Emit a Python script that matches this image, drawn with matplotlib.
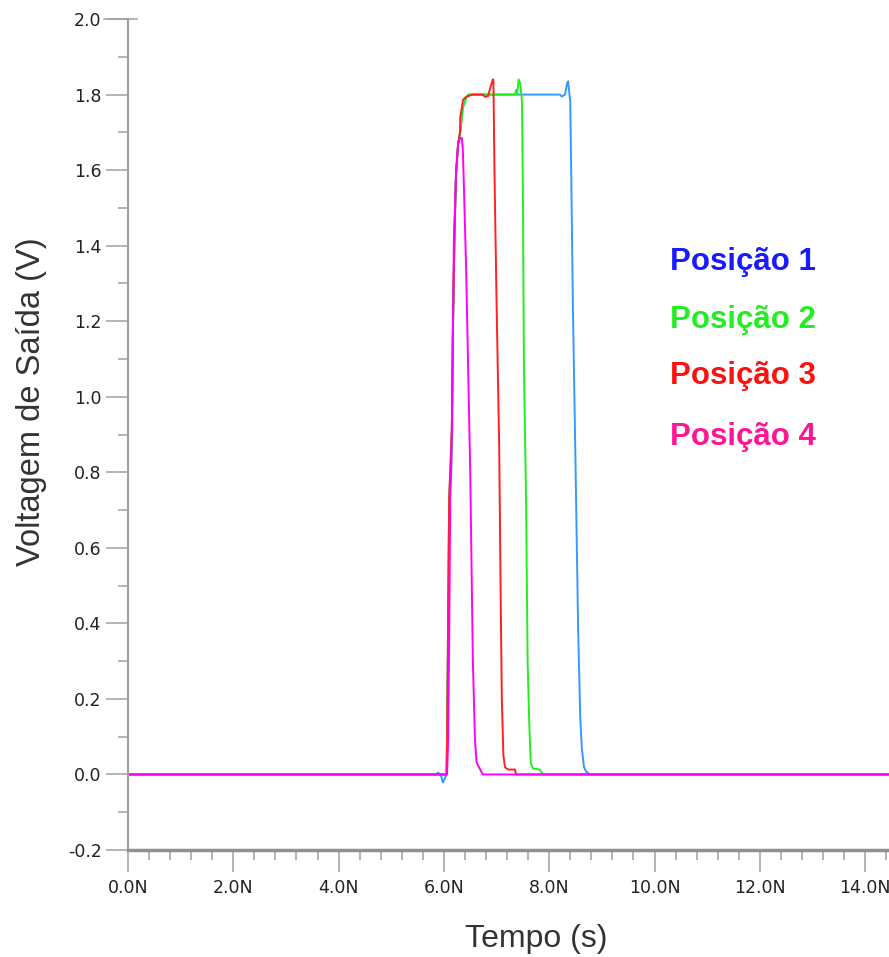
import numpy as np
import matplotlib.pyplot as plt
from matplotlib.ticker import MultipleLocator

# Posicao 1 (azul)
t1 = [0, 5.85, 5.89, 5.95, 5.98, 6.02, 6.05, 6.06, 6.08, 6.10, 6.14, 6.16, 6.17, 6.20, 6.23, 6.27,
      6.31, 6.34, 6.36, 6.42, 6.47, 8.20, 8.24, 8.30, 8.34, 8.36, 8.40, 8.42, 8.45, 8.50, 8.55,
      8.59, 8.62, 8.66, 8.70, 8.78, 15.0]
v1 = [0, 0, 0.005, -0.005, -0.021, -0.01, 0, 0.085, 0.35, 0.73, 0.80, 0.92, 1.17, 1.42, 1.59, 1.67,
      1.70, 1.74, 1.765, 1.79, 1.80, 1.80, 1.795, 1.80, 1.83, 1.835, 1.78, 1.57, 1.24, 0.82, 0.38,
      0.15, 0.07, 0.02, 0.008, 0, 0]

# Posicao 2 (verde)
t2 = [0, 6.05, 6.06, 6.10, 6.15, 6.17, 6.20, 6.23, 6.27, 6.31, 6.34, 6.36, 6.42, 6.47, 7.35, 7.37,
      7.39, 7.42, 7.45, 7.483, 7.50, 7.52, 7.56, 7.59, 7.62, 7.65, 7.69, 7.82, 7.88, 15.0]
v2 = [0, 0, 0.09, 0.73, 0.91, 1.17, 1.42, 1.59, 1.67, 1.70, 1.74, 1.765, 1.79, 1.80, 1.80, 1.812,
      1.80, 1.84, 1.83, 1.78, 1.55, 1.08, 0.73, 0.30, 0.14, 0.03, 0.016, 0.013, 0, 0]

# Posicao 3 (vermelho)
t3 = [0, 6.05, 6.06, 6.10, 6.15, 6.17, 6.20, 6.23, 6.27, 6.306, 6.31, 6.34, 6.363, 6.42, 6.458,
      6.55, 6.74, 6.78, 6.84, 6.86, 6.895, 6.93, 6.94, 6.96, 7.00, 7.05, 7.08, 7.10, 7.13, 7.16,
      7.22, 7.35, 7.37, 15.0]
v3 = [0, 0, 0.09, 0.73, 0.91, 1.17, 1.42, 1.59, 1.67, 1.70, 1.74, 1.765, 1.786, 1.794, 1.796,
      1.80, 1.80, 1.794, 1.796, 1.807, 1.825, 1.84, 1.84, 1.60, 1.25, 0.87, 0.45, 0.20, 0.05, 0.019,
      0.013, 0.013, 0, 0]

# Posicao 4 (magenta)
t4 = [0, 6.06, 6.08, 6.10, 6.12, 6.135, 6.15, 6.17, 6.19, 6.23, 6.27, 6.31, 6.34, 6.36, 6.38,
      6.42, 6.46, 6.50, 6.55, 6.59, 6.62, 6.69, 6.74, 15.0]
v4 = [0, 0, 0.09, 0.35, 0.73, 0.80, 0.91, 1.17, 1.42, 1.59, 1.67, 1.685, 1.685, 1.653, 1.556,
      1.35, 1.08, 0.80, 0.30, 0.093, 0.032, 0.013, 0, 0]

nomes = ["Posição 1", "Posição 2", "Posição 3", "Posição 4"]
cor_linha = ["#3399ff", "#22ee22", "#ff2020", "#ff00ff"]
cor_texto = ["#1a1aff", "#22ee22", "#ff1010", "#ff1493"]
pos_texto = [1.357, 1.204, 1.056, 0.894]

x_ticks = np.arange(0, 16, 2)
x_rotulos = ["%.1fN" % v for v in x_ticks]
y_ticks = np.round(np.arange(-0.2, 2.01, 0.2), 1)
y_rotulos = ["%.1f" % v for v in y_ticks]

fig = plt.figure(figsize=(8.89, 9.57), dpi=100)
ax = fig.add_axes([0.144, 0.1118, 0.856, 0.8683])

for t, v, c in zip([t1, t2, t3, t4], [v1, v2, v3, v4], cor_linha):
    ax.plot(t, v, color=c, lw=1.4)

for nome, c, y in zip(nomes, cor_texto, pos_texto):
    ax.text(10.29, y, nome, color=c, fontsize=22.5, fontweight="bold",
            family="Liberation Sans", va="center", ha="left")

ax.set_xlim(0, 14.454)
ax.set_ylim(-0.2, 2.0)

ax.spines["top"].set_visible(False)
ax.spines["right"].set_visible(False)
ax.spines["left"].set_color("#a0a0a0")
ax.spines["left"].set_linewidth(1.5)
ax.spines["bottom"].set_color("#909090")
ax.spines["bottom"].set_linewidth(2.5)

# pequeno traco no topo do eixo y
ax.plot([-0.45, 0.17], [2.0, 2.0], color="#a0a0a0", lw=1.1, clip_on=False)

ax.set_xticks(x_ticks)
ax.set_xticklabels(x_rotulos)
ax.xaxis.set_minor_locator(MultipleLocator(0.4))
ax.set_yticks(y_ticks)
ax.set_yticklabels(y_rotulos)
ax.yaxis.set_minor_locator(MultipleLocator(0.1))

ax.tick_params(which="major", length=16, width=1.1, color="#a0a0a0", labelsize=12.5,
               labelcolor="#222222")
ax.tick_params(which="minor", length=7, width=1.1, color="#a0a0a0")
ax.tick_params(axis="x", which="major", pad=5)
ax.tick_params(axis="y", which="major", pad=3)

ax.set_xlabel("Tempo (s)", fontsize=23, family="Liberation Sans", color="#333333")
ax.set_ylabel("Voltagem de Saída (V)", fontsize=23.5, family="Liberation Sans", color="#333333")
ax.xaxis.set_label_coords(0.536, -0.089)
ax.yaxis.set_label_coords(-0.107, 0.54)

plt.savefig("out.png", dpi=100)
